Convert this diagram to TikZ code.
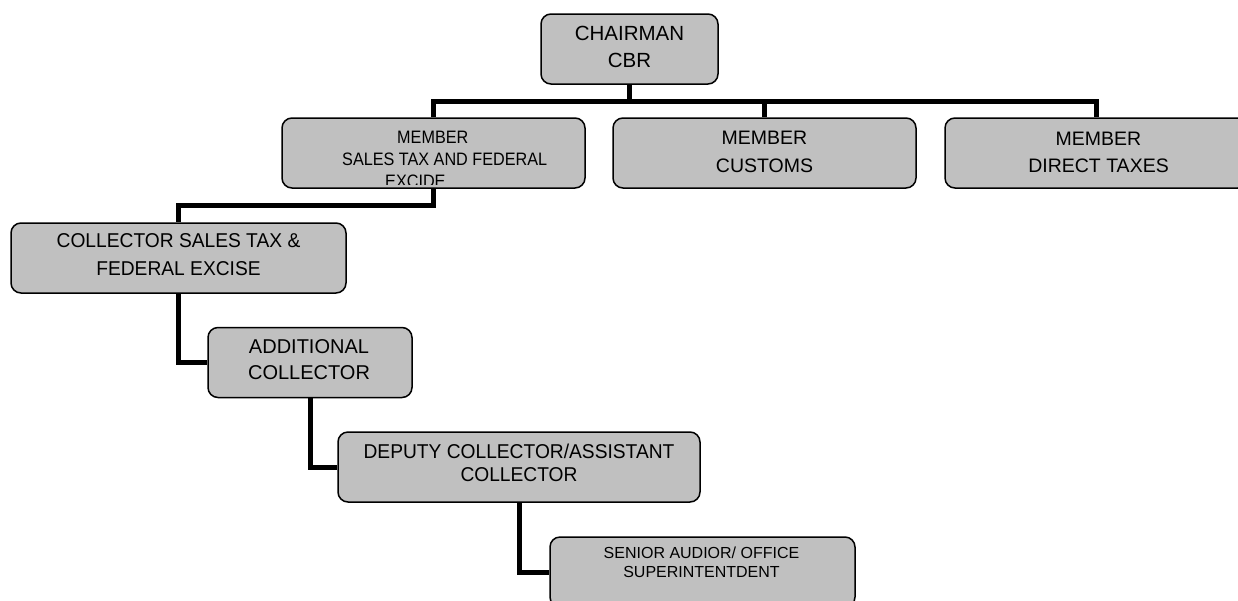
\documentclass[tikz,border=0pt]{standalone}
\usepackage{fontspec}
\setmainfont{Liberation Sans}
\newfontfamily\narrowA[FakeStretch=0.9]{Liberation Sans}
\newfontfamily\narrowB[FakeStretch=0.96]{Liberation Sans}
\usetikzlibrary{backgrounds}
\definecolor{boxgray}{HTML}{C0C0C0}
\tikzset{
  orgbox/.style={draw=black, line width=1.5pt, fill=boxgray, rounded corners=10pt, inner sep=0pt},
  conn/.style={draw=black, line width=5pt, line join=miter},
  txt/.style={align=center, inner sep=0pt, text=black},
}
\begin{document}
\begin{tikzpicture}[x=1pt,y=-1pt]
\useasboundingbox (0,0) rectangle (1238,600);
% boxes
\node[orgbox, minimum width=177pt, minimum height=70pt] (chair) at (629.5,49) {};
\node[orgbox, minimum width=303pt, minimum height=70pt] (mst) at (433.5,153) {};
\node[orgbox, minimum width=303pt, minimum height=70pt] (mcu) at (764.5,153) {};
\node[orgbox, minimum width=303pt, minimum height=70pt] (mdt) at (1096.5,153) {};
\node[orgbox, minimum width=335pt, minimum height=70pt] (col) at (178.5,258) {};
\node[orgbox, minimum width=204pt, minimum height=70pt] (add) at (310,362.5) {};
\node[orgbox, minimum width=362pt, minimum height=70pt] (dep) at (519,467) {};
\node[orgbox, minimum width=305pt, minimum height=70pt] (sen) at (702.5,572) {};
% texts
\node[txt, font=\fontsize{20.5}{27.5}\selectfont] (chairt) at ([yshift=2.3pt]chair.center) {CHAIRMAN\\CBR};
\begin{scope}
  \clip[rounded corners=9pt] ([xshift=1pt,yshift=4pt]mst.south west) rectangle ([xshift=-1pt,yshift=-1pt]mst.north east);
  \node[txt, align=left, anchor=west, font=\narrowA\fontsize{18}{22}\selectfont] (mstt) at (342,159)
    {\hspace*{55pt}MEMBER\\SALES TAX AND FEDERAL\\\hspace*{43pt}EXCIDE};
\end{scope}
\node[txt, font=\fontsize{19.5}{28}\selectfont] (mcut) at ([yshift=1pt]mcu.center) {MEMBER\\CUSTOMS};
\node[txt, font=\fontsize{19.5}{27}\selectfont] (mdtt) at ([xshift=2pt,yshift=0.5pt]mdt.center) {MEMBER\\DIRECT TAXES};
\node[txt, font=\narrowB\fontsize{20}{28}\selectfont] (colt) at ([yshift=3pt]col.center) {COLLECTOR SALES TAX \&\\FEDERAL EXCISE};
\node[txt, font=\fontsize{20}{26}\selectfont] (addt) at ([xshift=-1pt,yshift=2.5pt]add.center) {ADDITIONAL\\COLLECTOR};
\node[txt, font=\narrowB\fontsize{20}{23}\selectfont] (dept) at ([yshift=4.3pt]dep.center) {DEPUTY COLLECTOR/ASSISTANT\\COLLECTOR};
\node[txt, font=\fontsize{16}{19.5}\selectfont] (sent) at ([xshift=-1pt,yshift=9.7pt]sen.center) {SENIOR AUDIOR/ OFFICE\\SUPERINTENTDENT};
% connectors
\begin{pgfonlayer}{background}
\draw[conn] (chair.south) -- ++(0,17) coordinate (bus);
\draw[conn] (mst.north) |- (bus) -| (mdt.north);
\draw[conn] (bus) -| (mcu.north);
\draw[conn] (mst.south) -- ++(0,17) -| (col.north);
\draw[conn] (col.south) |- (add.west);
\draw[conn] (add.south) |- (dep.west);
\draw[conn] (dep.south) |- (sen.west);
\end{pgfonlayer}
\end{tikzpicture}
\end{document}
